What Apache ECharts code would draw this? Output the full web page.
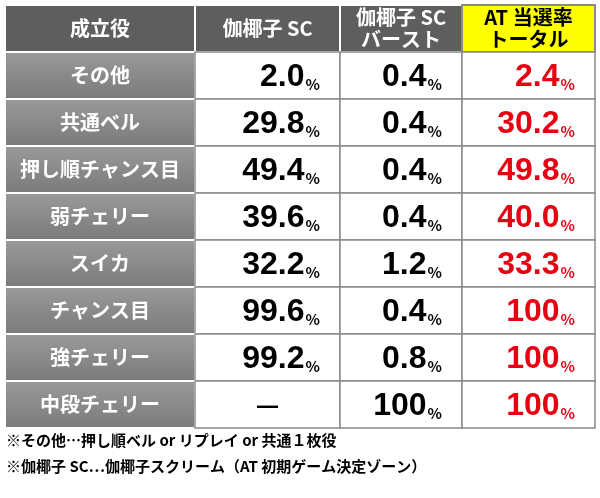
<!DOCTYPE html>
<html><head><meta charset="utf-8">
<script src="https://cdn.jsdelivr.net/npm/echarts@6/dist/echarts.min.js"></script>
<style>html,body{margin:0;padding:0;background:#fff}#main{width:600px;height:498px}</style>
</head><body><div id="main"></div>
<script>
var headers = ['成立役', '伽椰子 SC', '伽椰子 SC\nバースト', 'AT 当選率\nトータル'];
var rows = ['その他', '共通ベル', '押し順チャンス目', '弱チェリー', 'スイカ', 'チャンス目', '強チェリー', '中段チェリー'];
var scValues = ['2.0', '29.8', '49.4', '39.6', '32.2', '99.6', '99.2', '—'];
var burstValues = ['0.4', '0.4', '0.4', '0.4', '1.2', '0.4', '0.8', '100'];
var totalValues = ['2.4', '30.2', '49.8', '40.0', '33.3', '100', '100', '100'];
var notes = ['※その他…押し順ベル or リプレイ or 共通１枚役', '※伽椰子 SC…伽椰子スクリーム（AT 初期ゲーム決定ゾーン）'];

var colEdges = [0, 190, 335, 457, 590];
var yCats = ['head'].concat(rows);

var cells = [];
headers.forEach(function (h, c) { cells.push([c, 0, h, 'head']); });
rows.forEach(function (r, i) {
    cells.push([0, i + 1, r, 'label']);
    cells.push([1, i + 1, scValues[i], 'num']);
    cells.push([2, i + 1, burstValues[i], 'num']);
    cells.push([3, i + 1, totalValues[i], 'red']);
});

var font = '"Noto Sans CJK JP", sans-serif';
var numFont = '"Liberation Sans", Arial, sans-serif';
var chart = echarts.init(document.getElementById('main'));
chart.setOption({
    animation: false,
    grid: { left: 5, right: 5, top: 5, height: 423 },
    xAxis: { type: 'value', min: 0, max: 590, show: false },
    yAxis: { type: 'category', data: yCats, inverse: true, show: false },
    graphic: notes.map(function (t, i) {
        return { type: 'text', left: 6, top: 433 + i * 26,
            style: { text: t, font: 'bold 15px ' + font, fill: '#000' } };
    }),
    series: [{
        type: 'custom',
        data: cells,
        renderItem: function (params, api) {
            var c = api.value(0), r = api.value(1);
            var d = cells[params.dataIndex];
            var p0 = api.coord([colEdges[c], r]);
            var p1 = api.coord([colEdges[c + 1], r]);
            var h = api.size([0, 1])[1];
            var x = p0[0], y = p0[1] - h / 2, w = p1[0] - p0[0];
            var kind = d[3], txt = d[2];
            var fill = '#fff', stroke = '#8a8a8a', lw = 1.5;
            var textEl;
            if (kind === 'head') {
                fill = c === 3 ? '#ffff00' : '#5e5e5e';
                stroke = c === 3 ? '#8a8a8a' : '#fff';
                lw = 2;
                textEl = { type: 'text', style: { x: x + w / 2, y: y + h / 2, text: txt,
                    align: 'center', verticalAlign: 'middle', lineHeight: 22,
                    font: 'bold 20px ' + font, fill: c === 3 ? '#000' : '#fff' } };
            } else if (kind === 'label') {
                fill = { type: 'linear', x: 0, y: 0, x2: 0, y2: 1,
                    colorStops: [{ offset: 0, color: '#9a9a9a' }, { offset: 1, color: '#7a7a7a' }] };
                stroke = '#fff'; lw = 2;
                textEl = { type: 'text', style: { x: x + w / 2, y: y + h / 2, text: txt,
                    align: 'center', verticalAlign: 'middle',
                    font: 'bold 20px ' + font, fill: '#fff' } };
            } else {
                var color = kind === 'red' ? '#e60012' : '#000';
                if (txt === '—') {
                    textEl = { type: 'text', style: { x: x + w / 2, y: y + h / 2, text: '—',
                        align: 'center', verticalAlign: 'middle', font: 'bold 26px ' + font, fill: color } };
                } else {
                    textEl = { type: 'text', style: { x: x + w - 20, y: y + h / 2 + 2,
                        text: '{n|' + txt + '}{p|%}', align: 'right', verticalAlign: 'middle',
                        rich: {
                            n: { font: 'bold 32px ' + numFont, fill: color, verticalAlign: 'bottom' },
                            p: { font: 'bold 15px ' + font, fill: color, verticalAlign: 'bottom', padding: [0, 0, 2, 1] }
                        } } };
                }
            }
            return { type: 'group', children: [
                { type: 'rect', shape: { x: x, y: y, width: w, height: h },
                  style: { fill: fill, stroke: stroke, lineWidth: lw } },
                textEl
            ] };
        }
    }]
});
window.addEventListener('resize', function () { chart.resize(); });
</script>
</body></html>
